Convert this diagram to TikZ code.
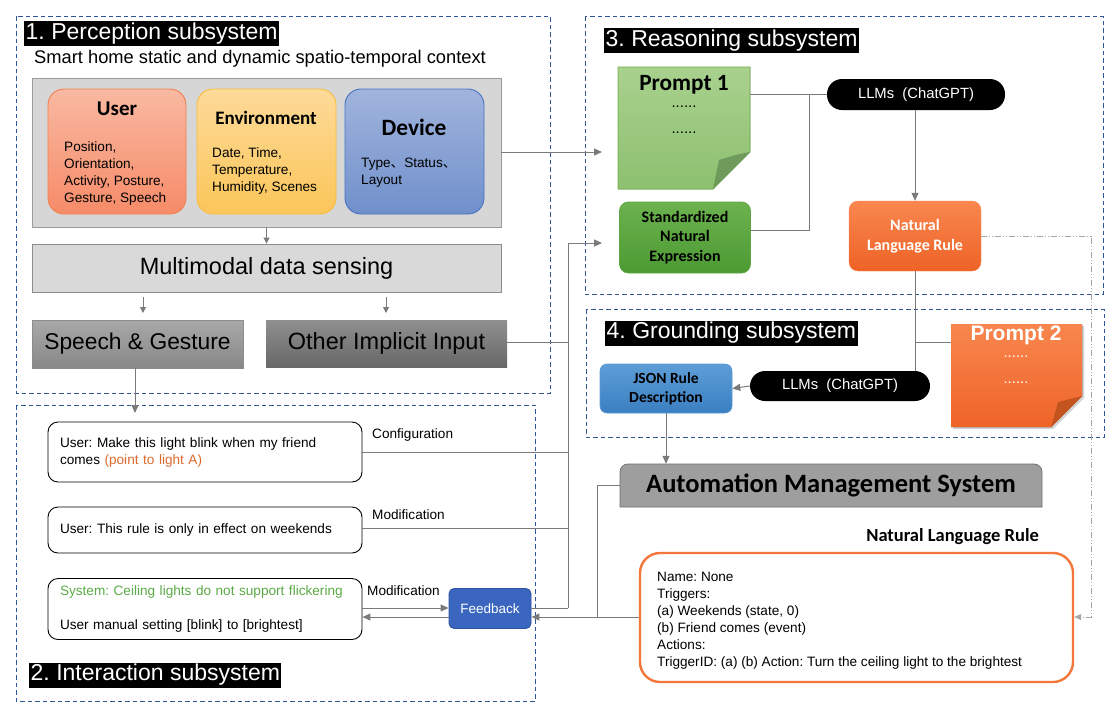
\documentclass[tikz,border=0pt]{standalone}
\usepackage{fontspec}
\setmainfont{Liberation Sans}
\newfontfamily\cjk{Noto Sans CJK SC}
\newfontfamily\calb{Carlito}
\usetikzlibrary{arrows.meta,shadows,calc}
\definecolor{framec}{HTML}{2F5597}
\definecolor{ctxfill}{HTML}{D6D6D6}
\definecolor{ctxdraw}{HTML}{9A9A9A}
\definecolor{usertop}{HTML}{F9B9A2}
\definecolor{userbot}{HTML}{F68B68}
\definecolor{userdraw}{HTML}{F0804F}
\definecolor{envtop}{HTML}{FDDA98}
\definecolor{envbot}{HTML}{FBC65A}
\definecolor{envdraw}{HTML}{F9BE3D}
\definecolor{devtop}{HTML}{A1B4DD}
\definecolor{devbot}{HTML}{7090CB}
\definecolor{devdraw}{HTML}{4472C4}
\definecolor{mmfill}{HTML}{D9D9D9}
\definecolor{mmdraw}{HTML}{8C8C8C}
\definecolor{sptop}{HTML}{A8A8A8}
\definecolor{spbot}{HTML}{888888}
\definecolor{ottop}{HTML}{8F8F8F}
\definecolor{otbot}{HTML}{686868}
\definecolor{ptop}{HTML}{A9D18E}
\definecolor{pbot}{HTML}{8DC070}
\definecolor{pdraw}{HTML}{70AD47}
\definecolor{pfold}{HTML}{6E9B5B}
\definecolor{stdtop}{HTML}{6CB24E}
\definecolor{stdbot}{HTML}{4C9A33}
\definecolor{stddraw}{HTML}{5FA744}
\definecolor{nlrtop}{HTML}{F9874F}
\definecolor{nlrbot}{HTML}{EE6226}
\definecolor{qtop}{HTML}{F8864E}
\definecolor{qbot}{HTML}{EF6428}
\definecolor{qfold}{HTML}{C35420}
\definecolor{jsontop}{HTML}{5E9ED7}
\definecolor{jsonbot}{HTML}{3A7FC2}
\definecolor{jsondraw}{HTML}{5B9BD5}
\definecolor{fbfill}{HTML}{3A66BF}
\definecolor{fbdraw}{HTML}{2E54A0}
\definecolor{amsfill}{HTML}{9E9E9E}
\definecolor{amsdraw}{HTML}{707070}
\definecolor{nlboxdraw}{HTML}{F3773A}
\definecolor{ptorange}{HTML}{DD6A2C}
\definecolor{sysgreen}{HTML}{5BAA47}
\definecolor{linegray}{HTML}{7A7A7A}
\definecolor{ddgray}{HTML}{A6A6A6}
\begin{document}
\frenchspacing
\begin{tikzpicture}[x=1pt,y=-1pt,
  frame/.style={draw=framec,line width=0.9pt,dash pattern=on 4.5pt off 3pt},
  ttl/.style={fill=black,text=white,font=\fontsize{23}{25}\selectfont,inner xsep=1.5pt,inner ysep=0pt,minimum height=25pt,anchor=west},
  card/.style={rounded corners=16pt,line width=0.9pt,minimum height=125pt},
  cardtitle/.style={font=\calb\bfseries\fontsize{21}{24}\selectfont,inner sep=0pt},
  cardbody/.style={font=\fontsize{13.6}{17}\selectfont,align=left,anchor=north west,inner sep=0pt},
  ubox/.style={draw=black,line width=0.9pt,rounded corners=10pt,minimum width=314pt,text width=290pt,inner xsep=12pt,align=left,font=\fontsize{13.6}{17}\selectfont},
  lbl/.style={font=\fontsize{13.6}{15}\selectfont,anchor=west,inner sep=0pt},
  pill/.style={fill=black,text=white,rounded corners=15pt,font=\fontsize{14.8}{16}\selectfont},
  conn/.style={draw=linegray,line width=1pt},
  arr/.style={conn,-{Triangle[length=8pt,width=7pt]}},
  dd/.style={draw=ddgray,line width=0.9pt,dash pattern=on 6pt off 2pt on 1pt off 2pt on 1pt off 2pt}
]
\useasboundingbox (0,0) rectangle (1118,710);
\fill[white] (0,0) rectangle (1118,710);

% ---------- frames ----------
\draw[frame] (16,16) rectangle (550,393);
\draw[frame] (16,405) rectangle (535,701);
\draw[frame] (585,16) rectangle (1103,294);
\draw[frame] (586,309) rectangle (1104,437);

% ---------- perception ----------
\node[ttl] (t1) at (24,33.5) {1. Perception subsystem};
\node[font=\fontsize{18.3}{20}\selectfont,anchor=west,inner sep=0pt] (sub) at (34,59) {Smart home static and dynamic spatio-temporal context};
\node[fill=ctxfill,draw=ctxdraw,line width=0.9pt,minimum width=469pt,minimum height=149pt] (ctx) at (266.5,152.5) {};
\node[card,top color=usertop,bottom color=userbot,draw=userdraw,minimum width=138pt] (user) at (117,151.5) {};
\node[card,top color=envtop,bottom color=envbot,draw=envdraw,minimum width=139pt] (env) at (266.5,151.5) {};
\node[card,top color=devtop,bottom color=devbot,draw=devdraw,minimum width=139pt] (dev) at (414.5,151.5) {};
\node[cardtitle] (userT) at (117,109) {User};
\node[cardtitle,font=\calb\bfseries\fontsize{19}{21}\selectfont] (envT) at (266,118) {Environment};
\node[cardtitle,font=\calb\bfseries\fontsize{23.4}{25}\selectfont] (devT) at (414,127) {Device};
\node[cardbody] (userB) at (64,141) {Position,\\Orientation,\\Activity, Posture,\\Gesture, Speech};
\node[cardbody] (envB) at (212,147) {Date, Time,\\Temperature,\\Humidity, Scenes};
\node[cardbody] (devB) at (361,158) {Type{\cjk 、}Status{\cjk 、}\\Layout};

\node[fill=mmfill,draw=mmdraw,line width=0.9pt,minimum width=469pt,minimum height=48pt,font=\fontsize{23.5}{25}\selectfont] (mm) at (266.5,268) {Multimodal data sensing};
\node[top color=sptop,bottom color=spbot,draw=mmdraw,line width=0.6pt,minimum width=211pt,minimum height=48pt,font=\fontsize{22.8}{25}\selectfont] (sp) at (137.5,344) {Speech \& Gesture};
\node[top color=ottop,bottom color=otbot,draw=none,minimum width=241pt,minimum height=47pt,font=\fontsize{23.5}{25}\selectfont] (oth) at (386.5,343.5) {Other Implicit Input};

\coordinate (m1a) at (143,297); \coordinate (m1b) at (143,313);
\coordinate (m2a) at (386,297); \coordinate (m2b) at (386,313);
\draw[arr,-{Triangle[length=6pt,width=6pt]}] (ctx.south) -- (mm.north);
\draw[arr,-{Triangle[length=6pt,width=6pt]}] (m1a) -- (m1b);
\draw[arr,-{Triangle[length=6pt,width=6pt]}] (m2a) -- (m2b);

% ---------- interaction ----------
\node[ubox,minimum height=60pt] (b1) at (205,452) {User: Make this light blink when my friend\\comes {\color{ptorange}(point to light A)}};
\node[ubox,minimum height=46pt] (b2) at (205,530) {User: This rule is only in effect on weekends};
\node[ubox,minimum height=61pt] (b3) at (205,609) {{\color{sysgreen}System: Ceiling lights do not support flickering}\\[17pt]User manual setting [blink] to [brightest]};
\node[ttl] (t2) at (29,675) {2. Interaction subsystem};
\node[lbl] (lc) at (372,435) {Configuration};
\node[lbl] (lm1) at (372,515) {Modification};
\node[lbl] (lm2) at (367,591) {Modification};
\node[fill=fbfill,draw=fbdraw,line width=0.8pt,rounded corners=5pt,minimum width=82pt,minimum height=40pt,text=white,font=\fontsize{13.5}{16}\selectfont] (fb) at (490,608.5) {Feedback};

\coordinate (spin) at (135,413);
\draw[arr] (sp.south -| spin) -- (spin);

% ---------- reasoning ----------
\node[ttl] (t3) at (604,40.5) {3. Reasoning subsystem};
\fill[top color=ptop,bottom color=pbot,draw=pdraw,line width=0.8pt] (618,67) -- (750,67) -- (750,152) -- (713,189) -- (618,189) -- cycle;
\fill[pfold] (750,152) .. controls (735,155) .. (719,160) -- (713,189) -- cycle;
\node[minimum width=132pt,minimum height=122pt,inner sep=0pt] (p1) at (684,128) {};
\node[font=\calb\bfseries\fontsize{23.3}{25}\selectfont,inner sep=0pt] (p1t) at (684,85) {Prompt 1};
\node[font=\fontsize{15}{16}\selectfont,inner sep=0pt] (p1d1) at (684,107) {......};
\node[font=\fontsize{15}{16}\selectfont,inner sep=0pt] (p1d2) at (684,133) {......};

\node[top color=stdtop,bottom color=stdbot,draw=stddraw,line width=0.8pt,rounded corners=9pt,minimum width=131pt,minimum height=71pt,align=center,font=\calb\bfseries\fontsize{16}{19.5}\selectfont] (std) at (685,237.5) {Standardized\\Natural\\Expression};
\node[pill,minimum width=178pt,minimum height=31pt] (llm1) at (916,94.5) {LLMs\ \ (ChatGPT)};
\node[top color=nlrtop,bottom color=nlrbot,draw=nlrtop,rounded corners=9pt,minimum width=132pt,minimum height=70pt,align=center,text=white,font=\calb\bfseries\fontsize{16}{20}\selectfont] (nlr) at (915,236) {Natural\\Language Rule};

\coordinate (p1in) at (602,152);
\coordinate (stdin) at (602,243);
\coordinate (j1) at (809,94);
\draw[arr] (ctx.east |- p1in) -- (p1in);
\draw[conn] (p1.east |- llm1.west) -- (llm1.west);
\draw[conn] (std.east |- 0,230) -| (j1);
\draw[arr] (llm1.south -| nlr.north) -- (nlr.north);

% ---------- grounding ----------
\node[ttl] (t4) at (605,333) {4. Grounding subsystem};
\fill[top color=qtop,bottom color=qbot,drop shadow={shadow xshift=2pt,shadow yshift=-2pt,opacity=0.35}] (951,324) -- (1082,324) -- (1082,396) -- (1051,427) -- (951,427) -- cycle;
\fill[qfold] (1082,396) .. controls (1070,399) .. (1058,402) -- (1051,427) -- cycle;
\node[minimum width=131pt,minimum height=103pt,inner sep=0pt] (p2) at (1016.5,375.5) {};
\node[font=\bfseries\fontsize{21}{23}\selectfont,text=white,inner sep=0pt] (p2t) at (1016,335) {Prompt 2};
\node[font=\fontsize{15}{16}\selectfont,text=white,inner sep=0pt] (p2d1) at (1016,357) {......};
\node[font=\fontsize{15}{16}\selectfont,text=white,inner sep=0pt] (p2d2) at (1016,383) {......};

\node[top color=jsontop,bottom color=jsonbot,draw=jsondraw,line width=0.6pt,rounded corners=7pt,minimum width=132pt,minimum height=49pt,align=center,font=\calb\bfseries\fontsize{15.5}{19}\selectfont] (json) at (666,388.5) {JSON Rule\\Description};
\node[pill,minimum width=180pt,minimum height=30pt] (llm2) at (840,386) {LLMs\ \ (ChatGPT)};

\coordinate (v2) at (915,342);
\draw[conn] (nlr.south) -- (nlr.south |- llm2.north);
\draw[conn] (v2) -- (v2 -| p2.west);
\draw[arr] (llm2.west) -- (json.east);

% ---------- automation ----------
\fill[amsfill,draw=amsdraw,line width=0.8pt] (620,507) [rounded corners=8pt] -- (620,464) -- (1042,464) [sharp corners] -- (1042,507) -- cycle;
\node[minimum width=422pt,minimum height=43pt,inner sep=0pt,font=\calb\bfseries\fontsize{26.5}{28}\selectfont] (ams) at (831,485.5) {Automation Management System};
\node[font=\calb\bfseries\fontsize{18.5}{20}\selectfont,anchor=east,inner sep=0pt] (nlrt) at (1039,537) {Natural Language Rule};
\node[draw=nlboxdraw,line width=2.4pt,rounded corners=20pt,minimum width=433pt,minimum height=129pt,inner sep=0pt] (nlbox) at (856.5,617.5) {};
\node[anchor=north west,inner sep=0pt,align=left,font=\fontsize{13.6}{17}\selectfont] (nlbt) at (657,572) {Name: None\\Triggers:\\(a) Weekends (state, 0)\\(b) Friend comes (event)\\Actions:\\TriggerID: (a) (b) Action: Turn the ceiling light to the brightest};

\draw[arr] (json.south) -- (json.south |- ams.north);

% ---------- bus and feedback ----------
\coordinate (busT) at (568,243);
\coordinate (busB) at (568,608);
\coordinate (j2) at (597,617);
\draw[conn] (oth.east |- 0,342) -- (busT |- 0,342);
\draw[arr] (busB) -- (busT) -- (stdin);
\draw[conn] (b1.east) -- (b1.east -| busT);
\draw[conn] (b2.east |- 0,528) -- (busT |- 0,528);
\draw[conn] ([yshift=0.5pt]fb.east) -- (busB);
\draw[arr] ([yshift=1pt]b3.east) -- ([yshift=1pt]b3.east -| fb.west);
\draw[arr] ([yshift=-8.5pt]fb.west) -- ([yshift=-8.5pt]fb.west -| b3.east);
\draw[arr] (nlbox.west |- j2) -- ([yshift=-8.5pt]fb.east);
\draw[conn] (ams.west) -| (j2);

\coordinate (ddc) at (1091,617);
\draw[dd,-{Triangle[length=7pt,width=6pt]},ddgray] (nlr.east) -| (ddc) -- (nlbox.east |- ddc);
\end{tikzpicture}
\end{document}
